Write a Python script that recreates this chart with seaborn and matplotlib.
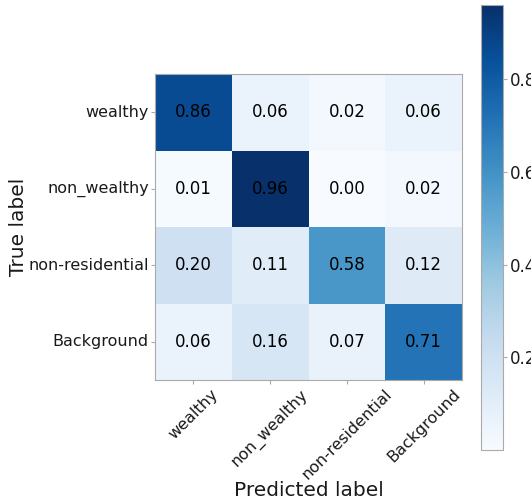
import matplotlib
matplotlib.use("Agg")
import matplotlib.pyplot as plt
import numpy as np
import pandas as pd
import seaborn as sns

# Class names and row-normalized confusion matrix values
classes = ["wealthy", "non_wealthy", "non-residential", "Background"]
row_wealthy = [0.86, 0.06, 0.02, 0.06]
row_non_wealthy = [0.01, 0.96, 0.00, 0.02]
row_non_residential = [0.20, 0.11, 0.58, 0.12]
row_background = [0.06, 0.16, 0.07, 0.71]

cm = pd.DataFrame(
    [row_wealthy, row_non_wealthy, row_non_residential, row_background],
    index=classes, columns=classes,
)

sns.set_style("white")
plt.rcParams["font.family"] = ["DejaVu Sans"]

fig = plt.figure(figsize=(5.31, 5.04), dpi=100)
ax = fig.add_axes([0.292, 0.246, 0.578, 0.607])
cax = fig.add_axes([0.906, 0.107, 0.0414, 0.883])

edge = "#aaaaaa"
text_col = "#1a1a1a"
sns.heatmap(
    cm, ax=ax, cbar_ax=cax, cmap="Blues", vmin=0.0, vmax=cm.values.max(),
    annot=True, fmt=".2f", annot_kws={"size": 12, "color": "black"},
    square=False, linewidths=0,
)

for s in ax.spines.values():
    s.set_visible(True)
    s.set_color(edge)
    s.set_linewidth(0.8)

ax.tick_params(axis="both", which="both", length=3, width=0.8, pad=1.5, color=edge,
               labelsize=11.5, labelcolor=text_col, left=True, bottom=True)
ax.set_xticklabels(classes, rotation=45, ha="center")
ax.set_yticklabels(classes, rotation=0)
ax.set_xlabel("Predicted label", fontsize=14.5, color=text_col)
ax.set_ylabel("True label", fontsize=14.5, color=text_col)
ax.xaxis.set_label_coords(0.5, -0.33)
ax.yaxis.set_label_coords(-0.415, 0.5)

cbar = ax.collections[0].colorbar
cbar.set_ticks([0.2, 0.4, 0.6, 0.8])
cbar.outline.set_visible(True)
cbar.outline.set_edgecolor(edge)
cbar.outline.set_linewidth(0.8)
cax.tick_params(labelsize=12, length=3, width=0.8, pad=2, color=edge,
                labelcolor=text_col, right=True)

fig.savefig("out.png", dpi=100)
